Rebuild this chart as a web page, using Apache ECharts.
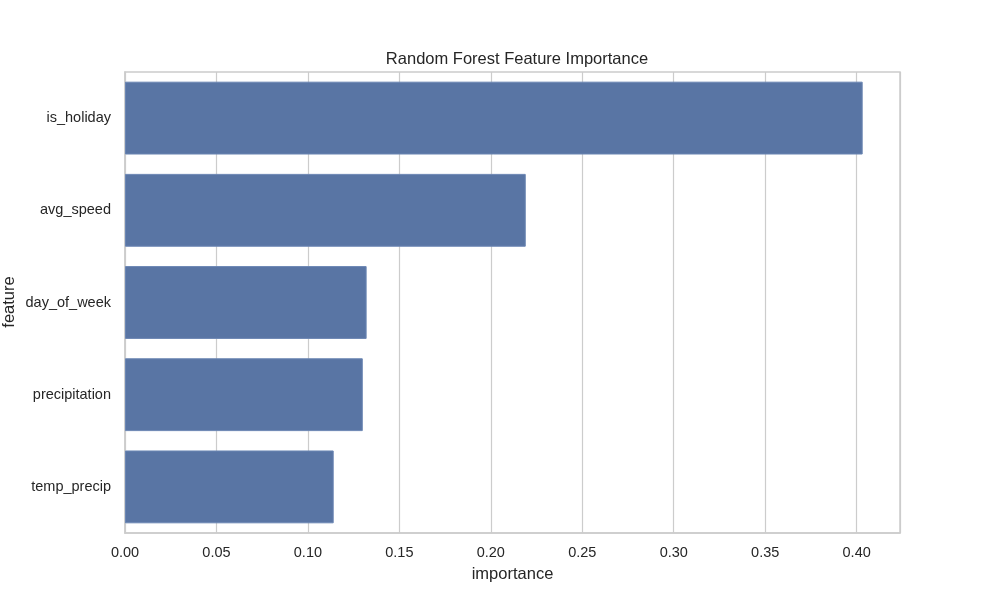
<!DOCTYPE html>
<html>
<head>
<meta charset="utf-8">
<script src="https://cdn.jsdelivr.net/npm/echarts@6/dist/echarts.min.js"></script>
<style>
  html, body { margin: 0; padding: 0; background: #fff; }
  #chart { width: 1000px; height: 600px; }
</style>
</head>
<body>
<div id="chart"></div>
<script>
// feature importance, top to bottom
const features = ['is_holiday', 'avg_speed', 'day_of_week', 'precipitation', 'temp_precip']
const importance = [0.4033, 0.2191, 0.1321, 0.1300, 0.1141]
const xMax = 0.4237

const font = '"Liberation Sans", Arial, sans-serif'
const textColor = '#262626'
const gridColor = '#cccccc'

const chart = echarts.init(document.getElementById('chart'))

const option = {
  backgroundColor: '#ffffff',
  animation: false,
  title: {
    text: 'Random Forest Feature Importance',
    left: 512,
    textAlign: 'center',
    top: 46,
    textStyle: { fontFamily: font, fontSize: 16.5, fontWeight: 'normal', color: textColor }
  },
  // y axis name drawn as a rotated text so it sits where the reference puts it
  graphic: [{
    type: 'text',
    x: 9,
    y: 302,
    rotation: Math.PI / 2,
    style: {
      text: 'feature',
      fill: textColor,
      font: '16.5px ' + font,
      align: 'center',
      verticalAlign: 'middle'
    }
  }],
  grid: {
    left: 125, right: 100, top: 72, bottom: 67,
    outerBoundsMode: 'none',
    containLabel: false,
    show: true, borderColor: gridColor, borderWidth: 1.5, backgroundColor: 'transparent'
  },
  xAxis: {
    type: 'value',
    min: 0,
    max: xMax,
    interval: 0.05,
    name: 'importance',
    nameLocation: 'middle',
    nameGap: 33,
    nameTextStyle: { fontFamily: font, fontSize: 16.5, color: textColor },
    axisLine: { show: true, lineStyle: { color: gridColor, width: 1.5 } },
    axisTick: { show: false },
    axisLabel: {
      fontFamily: font, fontSize: 14.5, color: textColor, margin: 12,
      showMaxLabel: false,
      formatter: v => v.toFixed(2)
    },
    splitLine: { show: true, lineStyle: { color: gridColor, width: 1.2 } }
  },
  yAxis: {
    type: 'category',
    data: features,
    inverse: true,
    axisLine: { show: true, lineStyle: { color: gridColor, width: 1.5 } },
    axisTick: { show: false },
    axisLabel: { fontFamily: font, fontSize: 14.5, color: textColor, margin: 14 },
    splitLine: { show: false }
  },
  series: [{
    type: 'bar',
    data: importance,
    barCategoryGap: '21%',
    itemStyle: { color: '#5975a4', borderColor: '#6b86b3', borderWidth: 1 }
  }]
}

chart.setOption(option)
</script>
</body>
</html>
